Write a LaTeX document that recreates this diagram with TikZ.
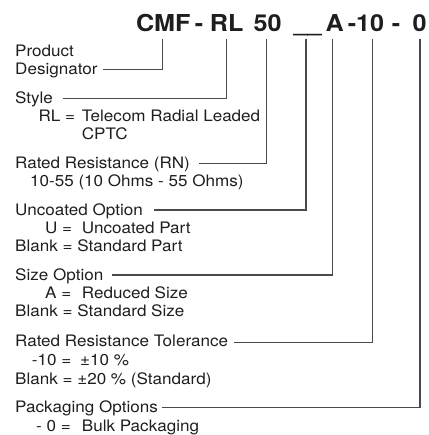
\documentclass[tikz,border=0pt]{standalone}
\usepackage{fontspec}
\setmainfont{TeX Gyre Heros}[FakeStretch=1.08]
\definecolor{txt}{HTML}{1E1E1E}
\definecolor{ln}{HTML}{4A4A4A}
\begin{document}
\begin{tikzpicture}[x=1pt,y=-1pt,
  title/.style={font=\fontsize{23.3}{24}\selectfont\bfseries, text=txt, inner sep=0pt, anchor=base},
  lbl/.style={font=\fontsize{15.8}{18}\selectfont, text=txt, inner sep=0pt, anchor=base west},
  conn/.style={draw=ln, line width=1.3pt}]
\useasboundingbox (0,0) rectangle (428,435);
% title
\node[title] (t1) at (163.3,31.7) {CMF};
\node[title] (td1) at (199,31.7) {-};
\node[title] (t2) at (226.7,31.7) {RL};
\node[title] (t3) at (267.5,31.7) {50};
\node[title] (t4) at (307.5,31.7) {\_\_};
\node[title] (t5) at (334.7,31.7) {A};
\node[title] (t6) at (366,31.7) {-10};
\node[title] (td2) at (396,31.7) {-};
\node[title] (t7) at (419.5,31.7) {0};
% labels
\node[lbl] (a1) at (15,57) {Product};
\node[lbl] (a2) at (15,75) {Designator};
\node[lbl] (b1) at (15,103.3) {Style};
\node[lbl] (b2) at (38.3,121.7) {RL =};
\node[lbl] (b3) at (81.7,121.7) {Telecom Radial Leaded};
\node[lbl] (b4) at (81.7,140) {CPTC};
\node[lbl] (c1) at (15,168.3) {Rated Resistance (RN)};
\node[lbl] (c2) at (30,186.5) {10-55 (10 Ohms - 55 Ohms)};
\node[lbl] (d1) at (15,215) {Uncoated Option};
\node[lbl] (d2) at (45,233.3) {U =};
\node[lbl] (d3) at (81.7,233.3) {Uncoated Part};
\node[lbl] (d4) at (15,251.6) {Blank = Standard Part};
\node[lbl] (e1) at (15,280) {Size Option};
\node[lbl] (e2) at (45,298.3) {A =};
\node[lbl] (e3) at (81.7,298.3) {Reduced Size};
\node[lbl] (e4) at (15,316.6) {Blank = Standard Size};
\node[lbl] (f1) at (15,346.7) {Rated Resistance Tolerance};
\node[lbl] (f2) at (31.7,365.5) {-10 =};
\node[lbl] (f3) at (80,365.5) {±10 \%};
\node[lbl] (f4) at (15,384.3) {Blank = ±20 \% (Standard)};
\node[lbl] (g1) at (15,412) {Packaging Options};
\node[lbl] (g2) at (36,431) {- 0 =};
\node[lbl] (g3) at (81.7,431) {Bulk Packaging};
% connectors
\draw[conn] ([xshift=-1pt,yshift=-7.3pt]t1.base) |- ([xshift=5.7pt,yshift=5.5pt]a2.base east);
\draw[conn] ([yshift=-7.3pt]t2.base) |- ([xshift=10pt,yshift=5pt]b1.base east);
\draw[conn] ([xshift=-0.8pt,yshift=-7.3pt]t3.base) |- ([xshift=8.7pt,yshift=5pt]c1.base east);
\draw[conn] ([xshift=-1.5pt,yshift=-7.3pt]t4.base) |- ([xshift=11pt,yshift=5pt]d1.base east);
\draw[conn] ([xshift=-2.4pt,yshift=-7.3pt]t5.base) |- ([xshift=8.7pt,yshift=5pt]e1.base east);
\draw[conn] ([xshift=6.3pt,yshift=-7.3pt]t6.base) |- ([xshift=5.7pt,yshift=4pt]f1.base east);
\draw[conn] ([xshift=0.5pt,yshift=-7.3pt]t7.base) |- ([xshift=4pt,yshift=4.5pt]g1.base east);
\end{tikzpicture}
\end{document}
